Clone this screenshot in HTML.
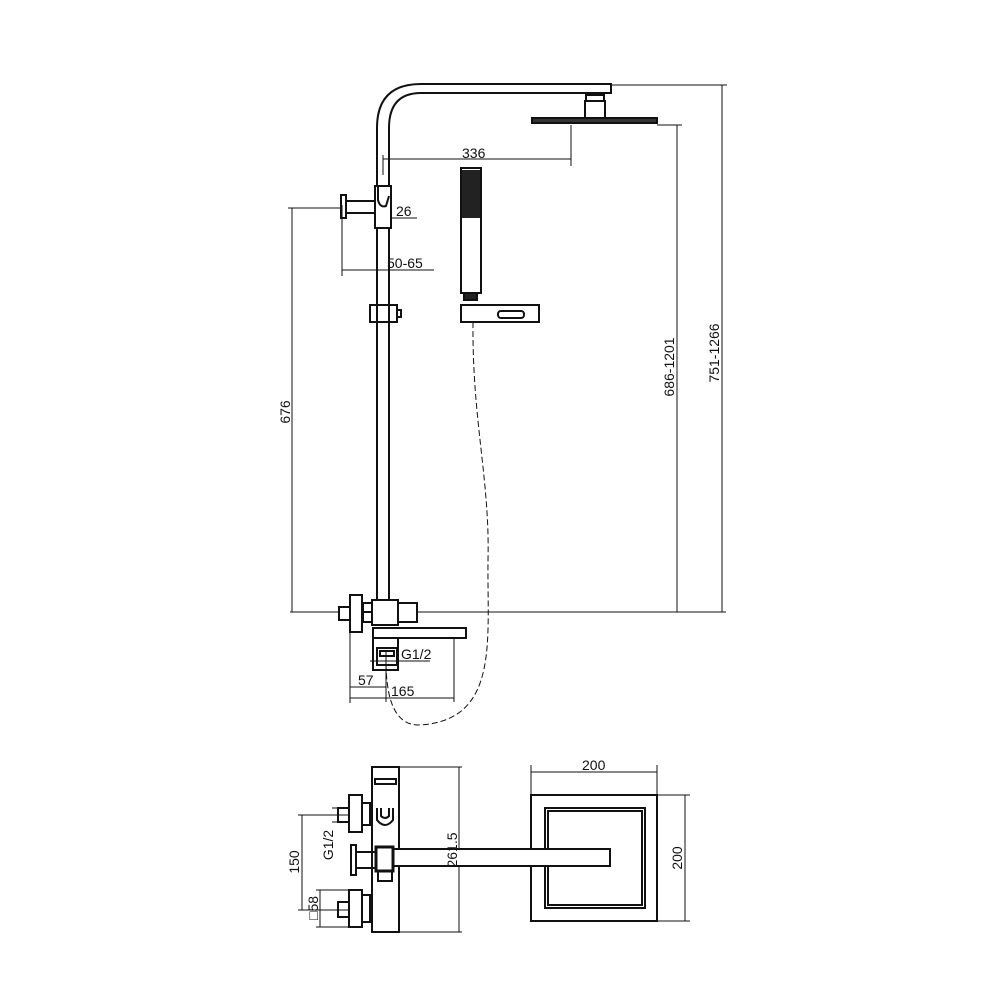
<!DOCTYPE html>
<html><head><meta charset="utf-8"><style>html,body{margin:0;padding:0;background:#fff}svg{display:block}text{font-family:"Liberation Sans",sans-serif;font-size:14px;fill:#111}</style></head>
<body>
<svg width="1000" height="1000" viewBox="0 0 1000 1000" xmlns="http://www.w3.org/2000/svg">
<g fill="none" stroke="#111" stroke-width="1">
<line x1="383" y1="159" x2="571" y2="159"/><line x1="571" y1="125" x2="571" y2="166"/><line x1="383" y1="155" x2="383" y2="175"/>
<line x1="391" y1="218" x2="417" y2="218"/>
<line x1="342" y1="270" x2="384" y2="270"/><line x1="342" y1="205" x2="342" y2="276"/><line x1="384" y1="270" x2="434" y2="270"/>
<line x1="288" y1="208" x2="340" y2="208"/><line x1="292" y1="208" x2="292" y2="612"/>
<line x1="290" y1="612" x2="726" y2="612"/>
<line x1="657" y1="125" x2="682" y2="125"/><line x1="677" y1="125" x2="677" y2="612"/>
<line x1="611" y1="85" x2="727" y2="85"/><line x1="722" y1="85" x2="722" y2="612"/>
<line x1="370" y1="661" x2="430" y2="661"/>
<line x1="350" y1="632" x2="350" y2="703"/><line x1="454" y1="638" x2="454" y2="702"/><line x1="386" y1="650" x2="386" y2="702"/>
<line x1="350" y1="687" x2="386" y2="687"/><line x1="350" y1="698" x2="454" y2="698"/>
<line x1="399" y1="767" x2="462" y2="767"/><line x1="399" y1="932" x2="462" y2="932"/><line x1="459" y1="767" x2="459" y2="932"/>
<line x1="298" y1="815" x2="350" y2="815"/><line x1="298" y1="910" x2="350" y2="910"/><line x1="302" y1="815" x2="302" y2="910"/>
<line x1="316" y1="890" x2="349" y2="890"/><line x1="316" y1="927" x2="349" y2="927"/><line x1="320" y1="890" x2="320" y2="927"/>
<line x1="332" y1="808" x2="338" y2="808"/><line x1="332" y1="822" x2="338" y2="822"/>
<line x1="531" y1="765" x2="531" y2="795"/><line x1="657" y1="765" x2="657" y2="795"/><line x1="531" y1="772" x2="657" y2="772"/>
<line x1="657" y1="795" x2="690" y2="795"/><line x1="657" y1="921" x2="690" y2="921"/><line x1="685" y1="795" x2="685" y2="921"/>
<path d="M473 322 C472 420, 490 480, 488 560 C487 640, 500 720, 420 725 C395 726, 386 700, 386 660" stroke-dasharray="6 3"/>
</g>
<g fill="none" stroke="#111" stroke-width="2">
<path d="M377 186 V128 Q377 84 421 84 H611 V93 H421 Q389 93 389 128 V186"/>
<line x1="377" y1="228" x2="377" y2="600"/>
<line x1="389" y1="228" x2="389" y2="600"/>
<rect x="586" y="95" width="18" height="6"/>
<rect x="585" y="101" width="20" height="17"/>
<rect x="532" y="118" width="125" height="5" fill="#333"/>
<rect x="375" y="186" width="16" height="42"/>
<path d="M378 186 V200 Q380 208 386 206 L389 196"/>
<rect x="346" y="201" width="29" height="12"/>
<rect x="341" y="195" width="5" height="23"/>
<rect x="370" y="305" width="27" height="17"/>
<rect x="397" y="310" width="4" height="7"/>
<rect x="461" y="168" width="20" height="125"/>
<rect x="462" y="170" width="18" height="48" fill="#222" stroke="none"/>
<rect x="464" y="293" width="13" height="7" fill="#222"/>
<rect x="461" y="305" width="78" height="17"/>
<rect x="498" y="311" width="26" height="7" rx="3"/>
<rect x="372" y="600" width="26" height="25" fill="#fff"/>
<rect x="398" y="603" width="19" height="19" fill="#fff"/>
<rect x="363" y="603" width="9" height="19"/>
<line x1="363" y1="612" x2="372" y2="612"/>
<rect x="350" y="595" width="12" height="37" fill="#fff"/>
<rect x="339" y="607" width="11" height="13" fill="#fff"/>
<rect x="373" y="628" width="93" height="10"/>
<rect x="373" y="638" width="25" height="32"/>
<rect x="377" y="648" width="20" height="17"/>
<rect x="380" y="651" width="14" height="5"/>
<rect x="531" y="795" width="126" height="126"/>
<rect x="545" y="808" width="100" height="100"/>
<rect x="548" y="811" width="94" height="94"/>
<rect x="372" y="767" width="27" height="165" fill="#fff"/>
<rect x="375" y="779" width="21" height="5"/>
<rect x="349" y="795" width="13" height="37"/>
<rect x="362" y="803" width="8" height="22"/>
<rect x="338" y="808" width="11" height="14"/>
<path d="M377 808 V820 Q385 830 393 820 V808 M381 808 V816 Q385 820 389 816 V808"/>
<rect x="349" y="890" width="13" height="37"/>
<rect x="362" y="895" width="8" height="27"/>
<rect x="338" y="902" width="11" height="15"/>
<rect x="351" y="845" width="5" height="30"/>
<rect x="356" y="852" width="20" height="16"/>
<rect x="393" y="849" width="217" height="17" fill="#fff"/>
<rect x="376" y="847" width="17" height="24" stroke-width="3" fill="#fff"/>
<rect x="378" y="871" width="14" height="10"/>
</g>
<text x="462" y="158">336</text>
<text x="396" y="216">26</text>
<text x="387" y="268">50-65</text>
<text x="401" y="659">G1/2</text>
<text x="358" y="685">57</text>
<text x="391" y="696">165</text>
<text x="582" y="770" font-size="12">200</text>
<text transform="translate(290,412) rotate(-90)" text-anchor="middle">676</text>
<text transform="translate(674,367) rotate(-90)" text-anchor="middle">686-1201</text>
<text transform="translate(719,353) rotate(-90)" text-anchor="middle">751-1266</text>
<text transform="translate(333,845) rotate(-90)" text-anchor="middle" font-size="12">G1/2</text>
<text transform="translate(299,862) rotate(-90)" text-anchor="middle" font-size="12">150</text>
<text transform="translate(318,908) rotate(-90)" text-anchor="middle" font-size="12">□58</text>
<text transform="translate(457,850) rotate(-90)" text-anchor="middle" font-size="12">261.5</text>
<text transform="translate(682,858) rotate(-90)" text-anchor="middle" font-size="12">200</text>
</svg>
</body></html>
